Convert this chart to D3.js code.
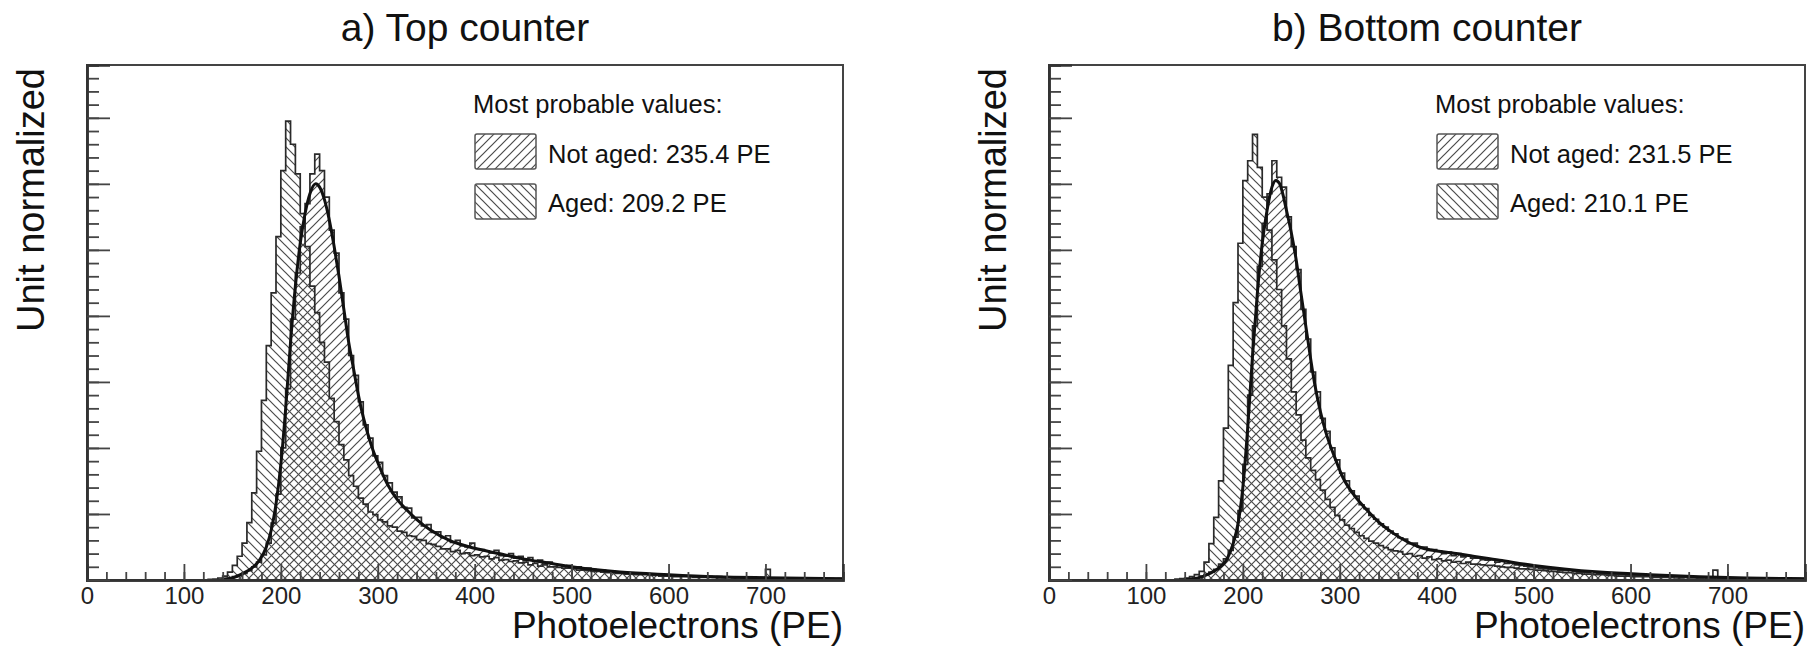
<!DOCTYPE html>
<html>
<head>
<meta charset="utf-8">
<script src="https://cdn.jsdelivr.net/npm/d3@7/dist/d3.min.js"></script>
<style>
  body { margin: 0; background: #fff; }
  svg { display: block; font-family: "Liberation Sans", Arial, Helvetica, sans-serif; }
</style>
</head>
<body>
<div id="chart"></div>
<script>
// Histogram binning (PE): bins are 5 PE wide, the first one starts at 120 PE
var binStart = 120;
var binWidth = 5;

// x axis ticks
var xTickLabels = [0, 100, 200, 300, 400, 500, 600, 700];

// a) Top counter
var notAgedTop = [
  0, 0, 0.01, 0.01, 0.02, 0.03, 0.05, 0.07,
  0.1, 0.14, 0.2, 0.27, 0.38, 0.56, 0.86, 1.3,
  2.0, 2.9, 3.95, 4.65, 5.35, 5.7, 6.15, 6.45,
  6.2, 5.8, 5.3, 4.95, 4.35, 3.95, 3.4, 3.1,
  2.7, 2.35, 2.15, 1.88, 1.78, 1.58, 1.47, 1.33,
  1.26, 1.1, 1.09, 0.94, 0.95, 0.82, 0.84, 0.72,
  0.73, 0.64, 0.67, 0.57, 0.6, 0.52, 0.5, 0.56,
  0.47, 0.46, 0.44, 0.41, 0.45, 0.37, 0.36, 0.4,
  0.33, 0.36, 0.3, 0.34, 0.28, 0.3, 0.26, 0.27,
  0.24, 0.23, 0.21, 0.22, 0.18, 0.2, 0.17, 0.18,
  0.16, 0.15, 0.15, 0.13, 0.13, 0.12, 0.12, 0.11,
  0.11, 0.1, 0.1, 0.09, 0.09, 0.08, 0.08, 0.08,
  0.07, 0.07, 0.06, 0.06, 0.06, 0.05, 0.05, 0.05,
  0.05, 0.04, 0.05, 0.04, 0.04, 0.04, 0.04, 0.03,
  0.04, 0.03, 0.03, 0.04, 0.03, 0.03, 0.03, 0.03,
  0.03, 0.02, 0.03, 0.02, 0.02, 0.03, 0.02, 0.02,
  0.02, 0.02, 0.02, 0.02
];
var agedTop = [
  0, 0.01, 0.01, 0.03, 0.06, 0.12, 0.22, 0.36,
  0.56, 0.87, 1.32, 1.95, 2.72, 3.55, 4.35, 5.2,
  6.2, 6.95, 6.6, 6.15, 5.55, 5.05, 4.45, 4.05,
  3.6, 3.3, 2.75, 2.4, 2.05, 1.82, 1.58, 1.42,
  1.24, 1.15, 1.03, 0.99, 0.91, 0.88, 0.82, 0.8,
  0.74, 0.72, 0.67, 0.66, 0.61, 0.6, 0.55, 0.54,
  0.51, 0.47, 0.47, 0.43, 0.45, 0.4, 0.41, 0.37,
  0.38, 0.35, 0.36, 0.32, 0.34, 0.3, 0.31, 0.28,
  0.29, 0.26, 0.27, 0.23, 0.25, 0.21, 0.23, 0.2,
  0.2, 0.19, 0.18, 0.18, 0.17, 0.15, 0.15, 0.14,
  0.13, 0.13, 0.12, 0.11, 0.11, 0.1, 0.1, 0.09,
  0.09, 0.08, 0.08, 0.08, 0.07, 0.07, 0.06, 0.06,
  0.06, 0.05, 0.05, 0.05, 0.05, 0.04, 0.04, 0.04,
  0.04, 0.04, 0.03, 0.03, 0.04, 0.03, 0.03, 0.03,
  0.03, 0.03, 0.03, 0.03, 0.16, 0.03, 0.02, 0.02,
  0.02, 0.03, 0.02, 0.02, 0.02, 0.02, 0.02, 0.02,
  0.01, 0.02, 0.01, 0.02
];
// fit of the not aged distribution: [PE, value]
var fitTop = [
  [140, 0.01], [150, 0.03], [161, 0.1], [170, 0.18], [178, 0.3], [185, 0.5],
  [190, 0.75], [195, 1.15], [200, 1.75], [205, 2.6], [210, 3.6], [215, 4.45],
  [220, 5.1], [225, 5.55], [230, 5.85], [236, 6.0], [240, 5.95], [245, 5.76],
  [250, 5.45], [255, 5.05], [260, 4.6], [265, 4.1], [270, 3.6], [275, 3.2],
  [280, 2.8], [285, 2.47], [290, 2.2], [295, 1.97], [300, 1.78], [310, 1.45],
  [320, 1.22], [330, 1.06], [340, 0.92], [354, 0.76], [374, 0.6], [400, 0.48],
  [425, 0.4], [450, 0.32], [475, 0.26], [500, 0.2], [550, 0.12], [600, 0.08],
  [650, 0.05], [700, 0.035], [780, 0.02]
];

// b) Bottom counter
var notAgedBottom = [
  0, 0, 0.01, 0.01, 0.01, 0.02, 0.03, 0.06,
  0.08, 0.12, 0.16, 0.24, 0.32, 0.45, 0.65, 1.05,
  1.75, 2.8, 3.85, 4.75, 5.4, 5.85, 6.35, 6.1,
  5.95, 5.5, 5.05, 4.7, 4.1, 3.65, 3.15, 2.85,
  2.45, 2.25, 2.0, 1.82, 1.62, 1.5, 1.35, 1.27,
  1.14, 1.08, 0.98, 0.92, 0.85, 0.8, 0.74, 0.7,
  0.64, 0.62, 0.55, 0.56, 0.5, 0.5, 0.45, 0.46,
  0.44, 0.4, 0.42, 0.37, 0.4, 0.35, 0.37, 0.33,
  0.33, 0.31, 0.3, 0.31, 0.27, 0.28, 0.25, 0.26,
  0.23, 0.22, 0.21, 0.2, 0.19, 0.18, 0.17, 0.16,
  0.16, 0.15, 0.14, 0.14, 0.13, 0.12, 0.12, 0.11,
  0.11, 0.1, 0.1, 0.09, 0.09, 0.08, 0.08, 0.07,
  0.07, 0.07, 0.06, 0.06, 0.06, 0.05, 0.05, 0.05,
  0.04, 0.05, 0.04, 0.04, 0.04, 0.04, 0.03, 0.04,
  0.03, 0.03, 0.03, 0.03, 0.03, 0.03, 0.03, 0.02,
  0.03, 0.02, 0.02, 0.03, 0.02, 0.02, 0.02, 0.02,
  0.02, 0.02, 0.02, 0.02
];
var agedBottom = [
  0, 0, 0.01, 0.02, 0.03, 0.05, 0.08, 0.13,
  0.27, 0.55, 0.95, 1.5, 2.3, 3.25, 4.2, 5.1,
  6.05, 6.35, 6.75, 6.25, 5.8, 5.3, 4.85, 4.4,
  3.85, 3.35, 2.85, 2.5, 2.12, 1.85, 1.66, 1.52,
  1.36, 1.22, 1.1, 0.98, 0.91, 0.83, 0.78, 0.72,
  0.67, 0.63, 0.59, 0.56, 0.52, 0.49, 0.46, 0.44,
  0.43, 0.39, 0.4, 0.36, 0.37, 0.33, 0.35, 0.31,
  0.32, 0.29, 0.3, 0.27, 0.28, 0.25, 0.27, 0.24,
  0.24, 0.23, 0.22, 0.22, 0.21, 0.2, 0.19, 0.19,
  0.18, 0.17, 0.17, 0.16, 0.15, 0.15, 0.14, 0.13,
  0.13, 0.12, 0.11, 0.11, 0.1, 0.1, 0.09, 0.09,
  0.08, 0.08, 0.08, 0.07, 0.07, 0.06, 0.06, 0.06,
  0.05, 0.05, 0.05, 0.05, 0.04, 0.04, 0.04, 0.04,
  0.04, 0.03, 0.03, 0.04, 0.03, 0.03, 0.03, 0.03,
  0.03, 0.15, 0.03, 0.02, 0.03, 0.02, 0.02, 0.02,
  0.02, 0.02, 0.02, 0.02, 0.02, 0.02, 0.02, 0.02,
  0.02, 0.01, 0.02, 0.01
];
var fitBottom = [
  [140, 0.01], [150, 0.02], [166, 0.1], [175, 0.18], [183, 0.3], [190, 0.55],
  [195, 0.85], [200, 1.4], [205, 2.3], [210, 3.4], [215, 4.35], [220, 5.1],
  [225, 5.6], [230, 5.95], [234, 6.05], [238, 6.0], [241, 5.86], [245, 5.6],
  [250, 5.26], [255, 4.85], [259, 4.44], [266, 3.74], [274, 2.98], [280, 2.55],
  [286, 2.22], [295, 1.85], [303, 1.56], [315, 1.28], [328, 1.06], [340, 0.88],
  [355, 0.71], [382, 0.5], [420, 0.4], [465, 0.3], [500, 0.22], [568, 0.12],
  [620, 0.08], [671, 0.05], [720, 0.03], [780, 0.02]
];

var panelTitles = ["a) Top counter", "b) Bottom counter"];
var legendHeader = "Most probable values:";
var legendNotAged = ["Not aged: 235.4 PE", "Not aged: 231.5 PE"];
var legendAged = ["Aged: 209.2 PE", "Aged: 210.1 PE"];

// page / panel geometry
var svgWidth = 1813;
var svgHeight = 646;
var panelLefts = [87, 1049];
var frameTop = 65;
var frameWidth = 756;
var frameHeight = 515;

var svg = d3.select("#chart")
  .append("svg")
  .attr("width", svgWidth)
  .attr("height", svgHeight);

// hatch patterns (ROOT style 3004 / 3005 look)
var defs = svg.append("defs");
defs.append("pattern")
  .attr("id", "hatchFwd")
  .attr("patternUnits", "userSpaceOnUse")
  .attr("width", 9).attr("height", 9)
  .append("path")
  .attr("d", "M0,9 L9,0 M-3,3 L3,-3 M6,12 L12,6")
  .attr("stroke", "#4a4a4a").attr("stroke-width", 1.2);
defs.append("pattern")
  .attr("id", "hatchBack")
  .attr("patternUnits", "userSpaceOnUse")
  .attr("width", 9).attr("height", 9)
  .append("path")
  .attr("d", "M0,0 L9,9 M-3,6 L3,12 M6,-3 L12,3")
  .attr("stroke", "#4a4a4a").attr("stroke-width", 1.2);

// turn a list of bin values into step points
function toSteps(values) {
  var pts = values.map(function(v, i) {
    return { pe: binStart + i * binWidth, v: v };
  });
  pts.push({ pe: binStart + values.length * binWidth, v: values[values.length - 1] });
  return pts;
}

var panels = [
  { notAged: notAgedTop, aged: agedTop, fit: fitTop },
  { notAged: notAgedBottom, aged: agedBottom, fit: fitBottom }
];

panels.forEach(function(p, k) {
  var left = panelLefts[k];

  var xScale = d3.scaleLinear()
    .domain([0, 780])
    .range([0, frameWidth]);
  var yScale = d3.scaleLinear()
    .domain([0, 7.8])
    .range([frameHeight, 0]);

  var g = svg.append("g")
    .attr("transform", `translate(${left}, ${frameTop})`);

  g.append("clipPath")
    .attr("id", "clip" + k)
    .append("rect")
    .attr("width", frameWidth)
    .attr("height", frameHeight);

  var plot = g.append("g").attr("clip-path", `url(#clip${k})`);

  var area = d3.area()
    .curve(d3.curveStepAfter)
    .x(d => xScale(d.pe))
    .y0(yScale(0))
    .y1(d => yScale(d.v));
  var line = d3.line()
    .curve(d3.curveStepAfter)
    .x(d => xScale(d.pe))
    .y(d => yScale(d.v));

  var agedPts = toSteps(p.aged);
  var notAgedPts = toSteps(p.notAged);

  plot.append("path")
    .attr("d", area(agedPts))
    .attr("fill", "url(#hatchBack)");
  plot.append("path")
    .attr("d", area(notAgedPts))
    .attr("fill", "url(#hatchFwd)");

  plot.append("path")
    .attr("d", line(agedPts))
    .attr("fill", "none")
    .attr("stroke", "#2a2a2a")
    .attr("stroke-width", 1.7);
  plot.append("path")
    .attr("d", line(notAgedPts))
    .attr("fill", "none")
    .attr("stroke", "#2a2a2a")
    .attr("stroke-width", 1.7);

  // fit curve
  plot.append("path")
    .attr("d", d3.line()
      .curve(d3.curveMonotoneX)
      .x(d => xScale(d[0]))
      .y(d => yScale(d[1]))(p.fit))
    .attr("fill", "none")
    .attr("stroke", "#111")
    .attr("stroke-width", 3);

  // frame
  g.append("rect")
    .attr("width", frameWidth)
    .attr("height", frameHeight)
    .attr("fill", "none")
    .attr("stroke", "#444")
    .attr("stroke-width", 2);

  // x axis: minor ticks every 20, major every 100
  var xMinor = d3.axisBottom(xScale)
    .tickValues(d3.range(0, 781, 20))
    .tickSize(-8)
    .tickFormat("");
  var xMajor = d3.axisBottom(xScale)
    .tickValues(xTickLabels)
    .tickSize(-16)
    .tickPadding(7);

  var gxMinor = g.append("g")
    .attr("transform", `translate(0, ${frameHeight})`)
    .call(xMinor);
  gxMinor.selectAll(".tick text").remove();
  var gxMajor = g.append("g")
    .attr("transform", `translate(0, ${frameHeight})`)
    .call(xMajor);
  [gxMinor, gxMajor].forEach(function(ax) {
    ax.select(".domain").attr("stroke", "#333").attr("stroke-width", 2.5);
    ax.selectAll(".tick line").attr("stroke", "#444").attr("stroke-width", 1.8);
  });
  gxMajor.selectAll(".tick text")
    .attr("font-size", 24)
    .attr("fill", "#222")
    .attr("font-family", "\"Liberation Sans\", Arial, sans-serif");

  // y axis: no labels, minor every 0.2, major every 1
  var yMinor = d3.axisLeft(yScale)
    .tickValues(d3.range(0, 7.81, 0.2))
    .tickSize(-12);
  var yMajor = d3.axisLeft(yScale)
    .tickValues(d3.range(0, 7.01, 1))
    .tickSize(-23);
  [yMinor, yMajor].forEach(function(a) {
    var ax = g.append("g").call(a);
    ax.selectAll(".tick text").remove();
    ax.select(".domain").attr("stroke", "#333").attr("stroke-width", 2.5);
    ax.selectAll(".tick line").attr("stroke", "#444").attr("stroke-width", 1.8);
  });

  // titles
  g.append("text")
    .attr("x", frameWidth / 2)
    .attr("y", 41 - frameTop)
    .attr("text-anchor", "middle")
    .attr("font-size", 39)
    .attr("fill", "#111")
    .text(panelTitles[k]);

  g.append("text")
    .attr("x", frameWidth)
    .attr("y", 638 - frameTop)
    .attr("text-anchor", "end")
    .attr("font-size", 37)
    .attr("fill", "#111")
    .text("Photoelectrons (PE)");

  g.append("text")
    .attr("transform", "translate(-43, 3) rotate(-90)")
    .attr("text-anchor", "end")
    .attr("font-size", 38)
    .attr("fill", "#111")
    .text("Unit normalized");

  // legend
  var leg = g.append("g").attr("transform", "translate(386, 0)");
  leg.append("text")
    .attr("x", 0)
    .attr("y", 113 - frameTop)
    .attr("font-size", 25.5)
    .attr("fill", "#111")
    .text(legendHeader);

  [["url(#hatchFwd)", legendNotAged[k], 134, 163], ["url(#hatchBack)", legendAged[k], 184, 212]].forEach(function(item) {
    leg.append("rect")
      .attr("x", 2)
      .attr("y", item[2] - frameTop)
      .attr("width", 61)
      .attr("height", 35)
      .attr("rx", 2)
      .attr("fill", item[0])
      .attr("stroke", "#555")
      .attr("stroke-width", 1.5);
    leg.append("text")
      .attr("x", 75)
      .attr("y", item[3] - frameTop)
      .attr("font-size", 25.5)
      .attr("fill", "#111")
      .text(item[1]);
  });
});
</script>
</body>
</html>
